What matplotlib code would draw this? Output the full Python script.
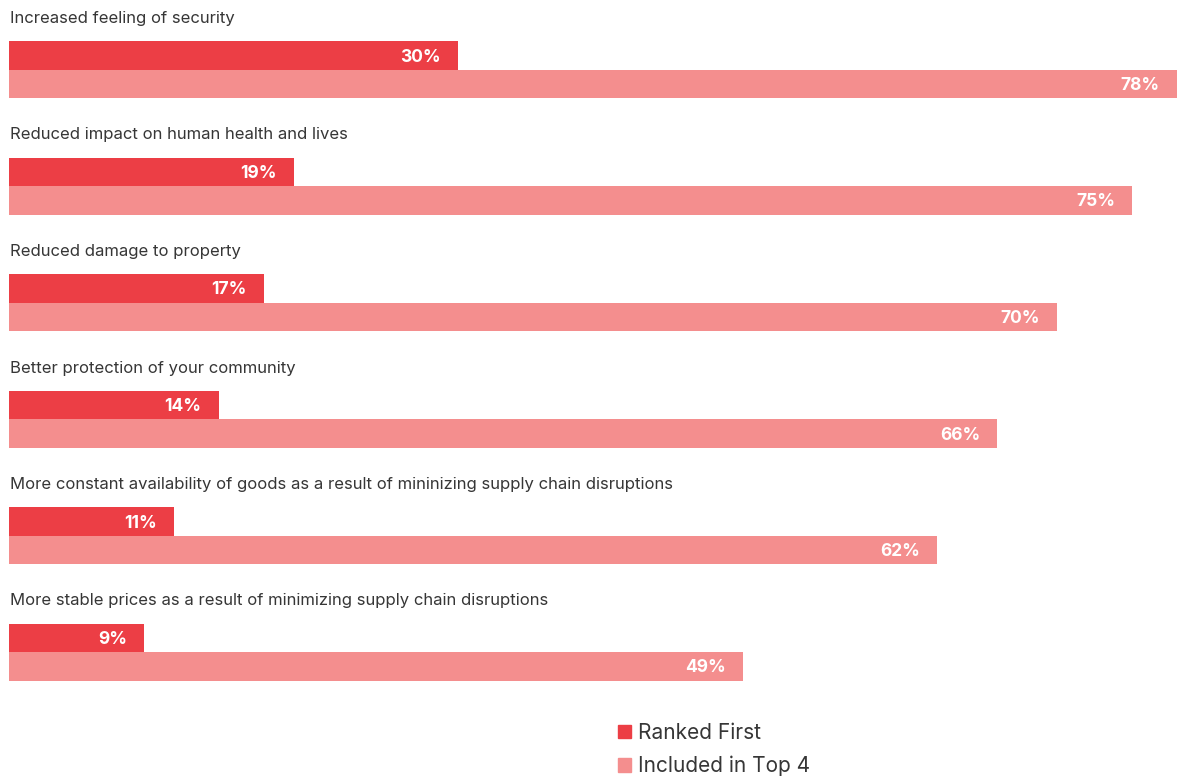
import matplotlib.pyplot as plt
from matplotlib.patches import Patch

plt.rcParams['font.family'] = ['Inter', 'DejaVu Sans']

# data
categories = [
    "Increased feeling of security",
    "Reduced impact on human health and lives",
    "Reduced damage to property",
    "Better protection of your community",
    "More constant availability of goods as a result of mininizing supply chain disruptions",
    "More stable prices as a result of minimizing supply chain disruptions",
]
ranked_first = [30, 19, 17, 14, 11, 9]
top_four = [78, 75, 70, 66, 62, 49]
series_names = ["Ranked First", "Included in Top 4"]

dark_red = "#EC3E45"
pink = "#F48E8E"
text_col = "#363636"

fig = plt.figure(figsize=(11.8, 7.78), dpi=100)
ax = fig.add_axes([0, 0, 1, 1])

px_per_pct = 14.974
group_px = 116.5
ax.set_xlim(-9 / px_per_pct, (1180 - 9) / px_per_pct)
ax.set_ylim(778 / group_px, 0)
ax.axis("off")

bar_h = 28.5 / group_px
pad = 17 / px_per_pct

for i, name in enumerate(categories):
    ax.text(0.05, i + 18.5 / group_px, name, ha="left", va="center",
            fontsize=12.0, color=text_col)

    y1 = i + 55.5 / group_px
    y2 = y1 + bar_h
    ax.barh(y1, ranked_first[i], height=bar_h, color=dark_red, linewidth=0)
    ax.barh(y2, top_four[i], height=bar_h, color=pink, linewidth=0)

    ax.text(ranked_first[i] - pad, y1 + 1.5 / group_px, f"{ranked_first[i]}%", ha="right",
            va="center", fontsize=12.5, fontweight="bold", color="white")
    ax.text(top_four[i] - pad, y2 + 1.5 / group_px, f"{top_four[i]}%", ha="right",
            va="center", fontsize=12.5, fontweight="bold", color="white")

handles = [Patch(color=dark_red, label=series_names[0]),
           Patch(color=pink, label=series_names[1])]
fig.legend(handles=handles, loc="upper left", bbox_to_anchor=(618 / 1180, 1 - 723 / 778),
           frameon=False, fontsize=15, handlelength=0.6, handleheight=0.6,
           handletextpad=0.35, labelspacing=0.62, labelcolor=text_col,
           borderaxespad=0, borderpad=0)

fig.savefig("out.png", dpi=100)
